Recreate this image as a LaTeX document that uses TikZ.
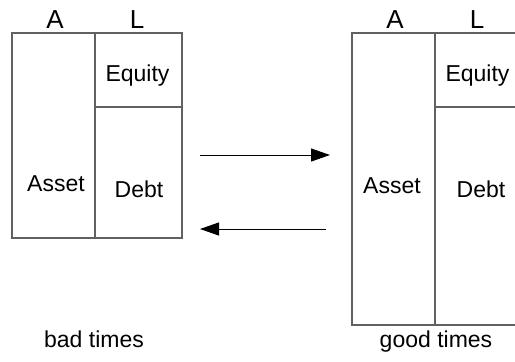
\documentclass[tikz,border=0pt]{standalone}
\usepackage{fontspec}
\setmainfont{Liberation Sans}
\usetikzlibrary{arrows.meta}
\begin{document}
\begin{tikzpicture}[x=1pt,y=-1pt,
  boxline/.style={draw=black!62, line width=1.3pt},
  lbl/.style={inner sep=0pt, font=\fontsize{23}{23}\selectfont},
  head/.style={inner sep=0pt, font=\fontsize{26}{26}\selectfont},
  flow/.style={draw=black, line width=1pt, -{Triangle[length=19pt,width=13pt]}}]
\useasboundingbox (0,0) rectangle (515,362);
% left balance sheet (bad times)
\coordinate (lTL) at (12,33);
\coordinate (lBR) at (182,238);
\draw[boxline] (lTL) rectangle (lBR);
\draw[boxline] (95,33) -- (95,238);
\draw[boxline] (95,107) -- (182,107);
% right balance sheet (good times), clipped at right edge
\draw[boxline] (515,33) -- (352,33) -- (352,325) -- (515,325);
\draw[boxline] (435,33) -- (435,325);
\draw[boxline] (435,107) -- (515,107);
% headings
\node[head] (lA) at (55,20) {A};
\node[head] (lL) at (137,20) {L};
\node[head] (rA) at (395,20) {A};
\node[head] (rL) at (477,20) {L};
% cell labels
\node[lbl] (lEq) at (137.5,76) {Equity};
\node[lbl] (lAs) at (56,184) {Asset};
\node[lbl] (lDe) at (139,189) {Debt};
\node[lbl] (rEq) at (477.5,76) {Equity};
\node[lbl] (rAs) at (392,186) {Asset};
\node[lbl] (rDe) at (481,189) {Debt};
% captions
\node[lbl, anchor=base] (bad) at (94,347) {bad times};
\node[lbl, anchor=base] (good) at (436,347) {good times};
% arrows
\coordinate (a1s) at (200,155);
\coordinate (a1e) at (330,155);
\coordinate (a2s) at (326,229);
\coordinate (a2e) at (200,229);
\draw[flow] (a1s) -- (a1e);
\draw[flow] (a2s) -- (a2e);
\end{tikzpicture}
\end{document}
